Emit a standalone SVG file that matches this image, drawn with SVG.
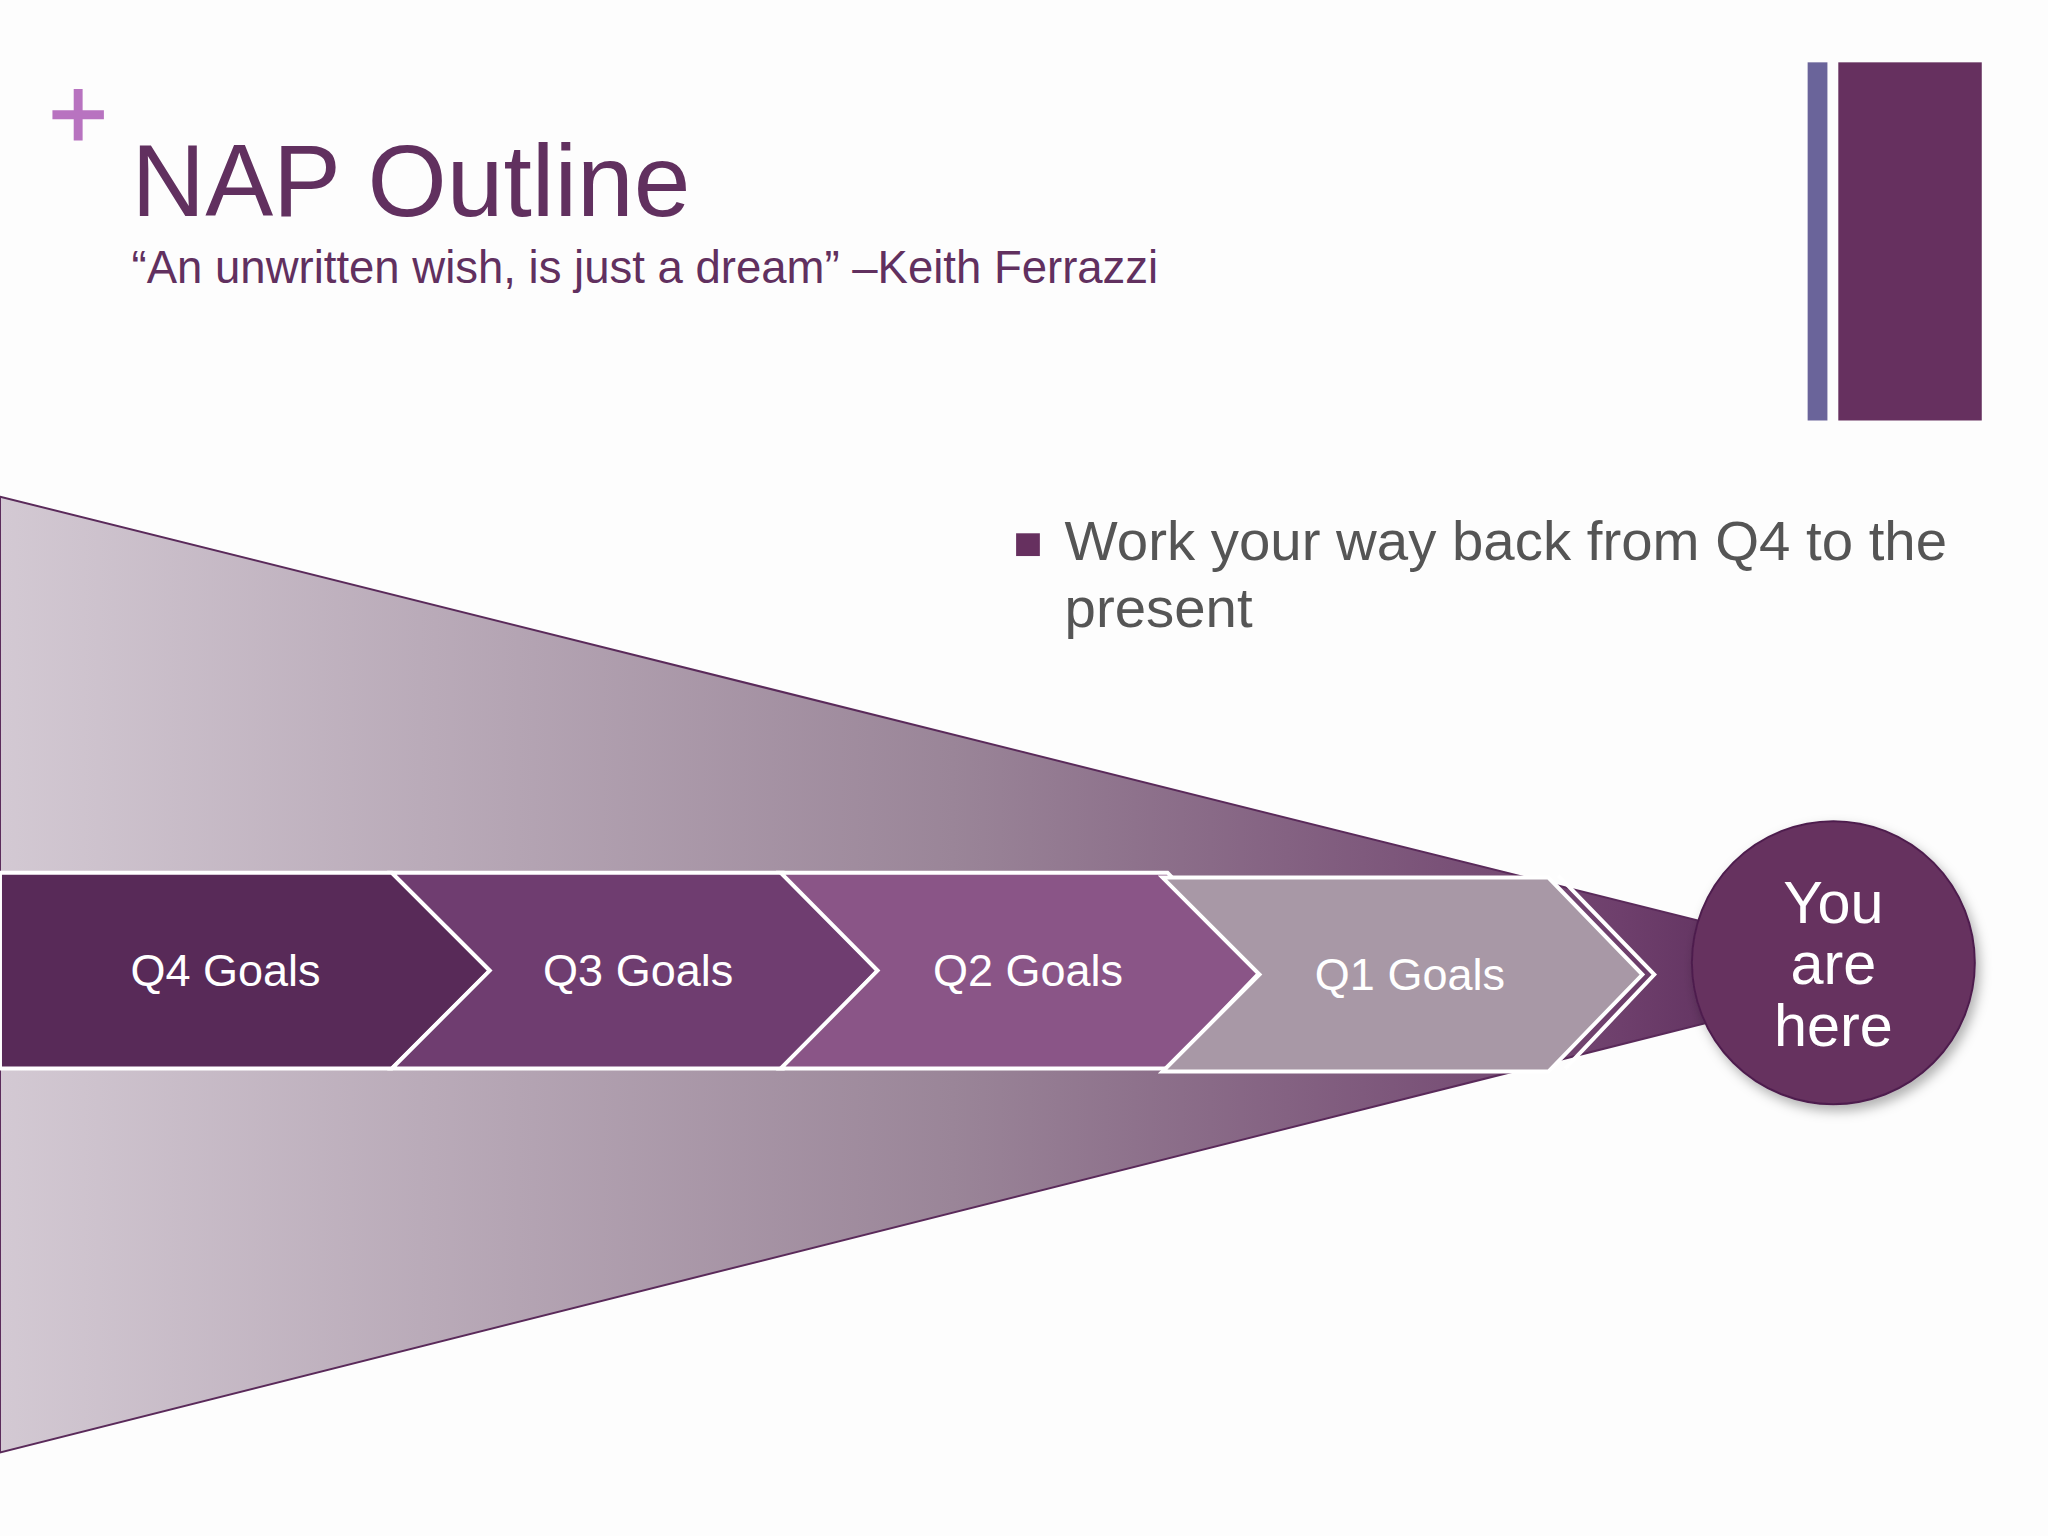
<svg xmlns="http://www.w3.org/2000/svg" width="2048" height="1536" viewBox="0 0 2048 1536">
<defs>
<linearGradient id="fun" x1="0" y1="0" x2="1" y2="0">
<stop offset="0" stop-color="#d3c9d3"/>
<stop offset="0.5" stop-color="#9a8598"/>
<stop offset="0.85" stop-color="#6e3f6c"/>
<stop offset="1" stop-color="#4e1f4e"/>
</linearGradient>
<filter id="sh" x="-20%" y="-20%" width="140%" height="140%"><feDropShadow dx="4" dy="6" stdDeviation="6" flood-opacity="0.3"/></filter>
<style>
text{font-family:"Liberation Sans",Arial,sans-serif}
.chev{stroke:#fff;stroke-width:4}
.lab{fill:#fff;font-size:45.5px;text-anchor:middle}
.cir{fill:#fff;font-size:60px;text-anchor:middle}
</style>
</defs>
<rect width="2048" height="1536" fill="#fdfdfd"/>
<g transform="scale(0.9894)">
<g id="header">
<path d="M79 90v52M53 116h52" stroke="#b873c0" stroke-width="9"/>
<text x="133" y="218" font-size="103" fill="#61305f">NAP Outline</text>
<text x="133" y="286" font-size="46" fill="#61305f">“An unwritten wish, is just a dream” –Keith Ferrazzi</text>
<rect x="1827" y="63" width="20" height="362" fill="#6a649a"/>
<rect x="1858" y="63" width="145" height="362" fill="#66305f"/>
</g>
<g id="bullet">
<rect x="1027" y="539" width="24" height="23" fill="#66305f"/>
<text x="1076" y="566" font-size="57" fill="#555">Work your way back from Q4 to the</text>
<text x="1076" y="634" font-size="57" fill="#555">present</text>
</g>
<g id="funnel"><polygon points="0,502 1927,983 0,1468" fill="url(#fun)" stroke="#5a2a5a" stroke-width="2"/></g>
<g id="connectors"><polyline points="1575,885 1672,985 1582,1080" fill="none" stroke="#fff" stroke-width="4"/></g>
<g id="q4"><polygon class="chev" points="0,882 396,882 495,981 396,1080 0,1080" fill="#582a58"/><text class="lab" x="228" y="997">Q4 Goals</text></g>
<g id="q3"><polygon class="chev" points="396,882 792,882 887,981 792,1080 396,1080 495,981" fill="#6f3d70"/><text class="lab" x="645" y="997">Q3 Goals</text></g>
<g id="q2"><polygon class="chev" points="789,882 1180,882 1275,981 1180,1080 789,1080 887,981" fill="#8a5587"/><text class="lab" x="1039" y="997">Q2 Goals</text></g>
<g id="q1"><polygon class="chev" points="1175,887 1565,887 1660,985 1565,1083 1175,1083 1273,985" fill="#a898a6"/><text class="lab" x="1425" y="1001">Q1 Goals</text></g>
<g id="here">
<circle cx="1853" cy="973" r="143" fill="#66305f" stroke="#4e1f4e" stroke-width="2" filter="url(#sh)"/>
<text class="cir" x="1853" y="933">You</text>
<text class="cir" x="1853" y="995">are</text>
<text class="cir" x="1853" y="1057">here</text>
</g>
</g>
</svg>
